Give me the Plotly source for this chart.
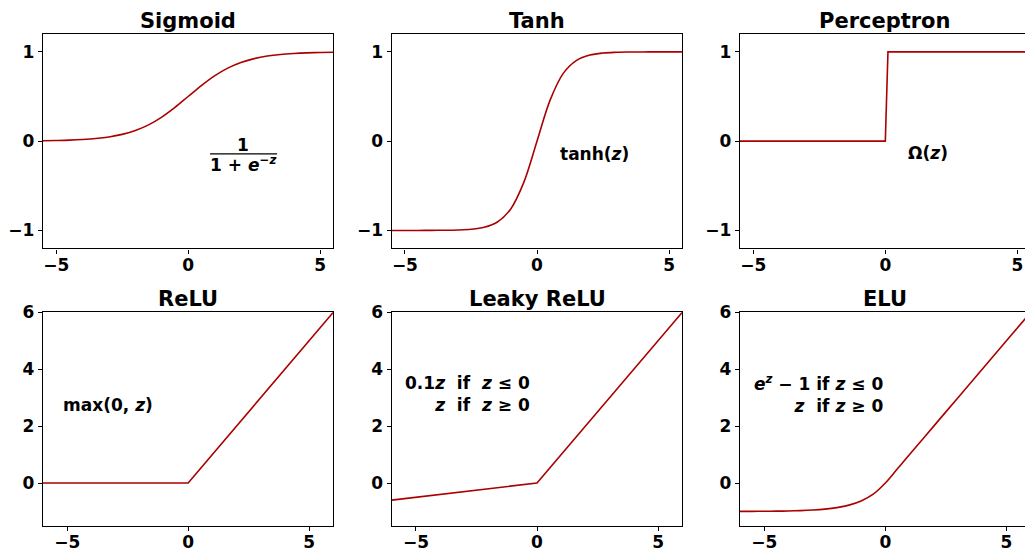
import plotly.graph_objects as go
from plotly.subplots import make_subplots

# ---------------- data ----------------
titles = ["Sigmoid", "Tanh", "Perceptron", "ReLU", "Leaky ReLU", "ELU"]

z_top = [-5.5, -5.0, -4.5, -4.0, -3.5, -3.0, -2.5, -2.0, -1.5, -1.0, -0.5, 0.0,
         0.5, 1.0, 1.5, 2.0, 2.5, 3.0, 3.5, 4.0, 4.5, 5.0, 5.5]
sigmoid_vals = [0.004, 0.007, 0.011, 0.018, 0.029, 0.047, 0.076, 0.119, 0.182, 0.269, 0.378, 0.500,
                0.622, 0.731, 0.818, 0.881, 0.924, 0.953, 0.971, 0.982, 0.989, 0.993, 0.996]
tanh_vals = [-1.000, -1.000, -1.000, -0.999, -0.998, -0.995, -0.987, -0.964, -0.905, -0.762, -0.462, 0.000,
             0.462, 0.762, 0.905, 0.964, 0.987, 0.995, 0.998, 0.999, 1.000, 1.000, 1.000]
perc_z = [-5.5, 0.0, 0.1, 5.5]
perc_vals = [0, 0, 1, 1]

relu_z = [-6, 0, 6]
relu_vals = [0, 0, 6]
leaky_z = [-6, 0, 6]
leaky_vals = [-0.6, 0, 6]
elu_z = [-6.0, -5.5, -5.0, -4.5, -4.0, -3.5, -3.0, -2.5, -2.0, -1.5, -1.0, -0.5, 0.0,
         0.5, 1.0, 2.0, 3.0, 4.0, 5.0, 6.0]
elu_vals = [-0.998, -0.996, -0.993, -0.989, -0.982, -0.970, -0.950, -0.918, -0.865, -0.777, -0.632, -0.393, 0.0,
            0.5, 1.0, 2.0, 3.0, 4.0, 5.0, 6.0]

top_xticks = [-5, 0, 5]
top_yticks = [-1, 0, 1]
bot_xticks = [-5, 0, 5]
bot_yticks = [0, 2, 4, 6]

# ---------------- style ----------------
RED = "#aa0000"
FONT = "DejaVu Sans"
W, H = 1025, 552

fig = make_subplots(rows=2, cols=3)

series = [
    (1, 1, z_top, sigmoid_vals, "spline"),
    (1, 2, z_top, tanh_vals, "spline"),
    (1, 3, perc_z, perc_vals, "linear"),
    (2, 1, relu_z, relu_vals, "linear"),
    (2, 2, leaky_z, leaky_vals, "linear"),
    (2, 3, elu_z, elu_vals, "spline"),
]
for r, c, x, y, shape in series:
    fig.add_trace(go.Scatter(x=x, y=y, mode="lines",
                             line=dict(color=RED, width=1.6, shape=shape),
                             showlegend=False, hoverinfo="skip"), row=r, col=c)

# domains in pixels
col_px = [(43, 333.3), (391.7, 682.3), (740, 1025)]
row_px = [(34, 248.3), (312.3, 525.7)]
xranges = [[[-5.5, 5.5], [-5.5, 5.5], [-5.5, 5.287]],
           [[-6, 6], [-6, 6], [-6, 5.767]]]
yranges = [[-1.2, 1.2], [-1.5, 6]]

axis_common = dict(showline=True, linecolor="black", linewidth=1.4,
                   ticks="outside", ticklen=4, tickwidth=1.2, tickcolor="black",
                   showgrid=False, zeroline=False, automargin=False,
                   tickfont=dict(family=FONT, size=17, color="black", weight="bold"))

for r in range(2):
    for c in range(3):
        idx = r * 3 + c + 1
        xd = [col_px[c][0] / W, min(col_px[c][1] / W, 1.0)]
        yd = [(H - row_px[r][1]) / H, (H - row_px[r][0]) / H]
        xk = "xaxis" if idx == 1 else f"xaxis{idx}"
        yk = "yaxis" if idx == 1 else f"yaxis{idx}"
        fig.layout[xk].update(domain=xd, range=xranges[r][c],
                              tickvals=top_xticks if r == 0 else bot_xticks,
                              mirror=True, ticklabelstandoff=-3, **axis_common)
        fig.layout[yk].update(domain=yd, range=yranges[r],
                              tickvals=top_yticks if r == 0 else bot_yticks,
                              mirror=(c != 2), **axis_common)
        # title
        xref = "x" if idx == 1 else f"x{idx}"
        fig.add_annotation(x=0, y=yd[1], xref=xref, yref="paper",
                           text=titles[idx - 1], showarrow=False,
                           xanchor="center", yanchor="middle", yshift=13,
                           font=dict(family=FONT, size=21, color="black", weight="bold"))

ann_font = dict(family=FONT, size=17, color="black", weight="bold")

# Sigmoid fraction
fig.add_annotation(x=2.09, y=-0.045, xref="x", yref="y", text="1",
                   showarrow=False, font=ann_font)
fig.add_annotation(x=2.09, y=-0.26, xref="x", yref="y",
                   text="1 + <i>e</i><sup>−<i>z</i></sup>",
                   showarrow=False, font=ann_font)
fig.add_shape(type="line", xref="x", yref="y", x0=0.83, x1=3.37, y0=-0.143, y1=-0.143,
              line=dict(color="black", width=1.4))

# Tanh
fig.add_annotation(x=2.18, y=-0.14, xref="x2", yref="y2", text="tanh(<i>z</i>)",
                   showarrow=False, font=ann_font)
# Perceptron
fig.add_annotation(x=1.6, y=-0.13, xref="x3", yref="y3", text="Ω(<i>z</i>)",
                   showarrow=False, font=ann_font)
# ReLU
fig.add_annotation(x=-3.3, y=2.75, xref="x4", yref="y4", text="max(0, <i>z</i>)",
                   showarrow=False, font=ann_font)
# Leaky ReLU
fig.add_annotation(x=-0.2, y=3.13, xref="x5", yref="y5",
                   text="0.1<i>z</i>  if  <i>z</i> ≤ 0<br><i>z</i>  if  <i>z</i> ≥ 0",
                   showarrow=False, xanchor="right", align="right", font=ann_font)
# ELU
fig.add_annotation(x=0.0, y=3.13, xref="x6", yref="y6",
                   text="<i>e</i><sup><i>z</i></sup> − 1 if <i>z</i> ≤ 0<br><i>z</i>  if <i>z</i> ≥ 0",
                   showarrow=False, xanchor="right", align="right", font=ann_font)

fig.update_layout(width=W, height=H, margin=dict(l=0, r=0, t=0, b=0),
                  paper_bgcolor="white", plot_bgcolor="white",
                  font=dict(family=FONT, color="black"))

fig.write_html("out.html")
